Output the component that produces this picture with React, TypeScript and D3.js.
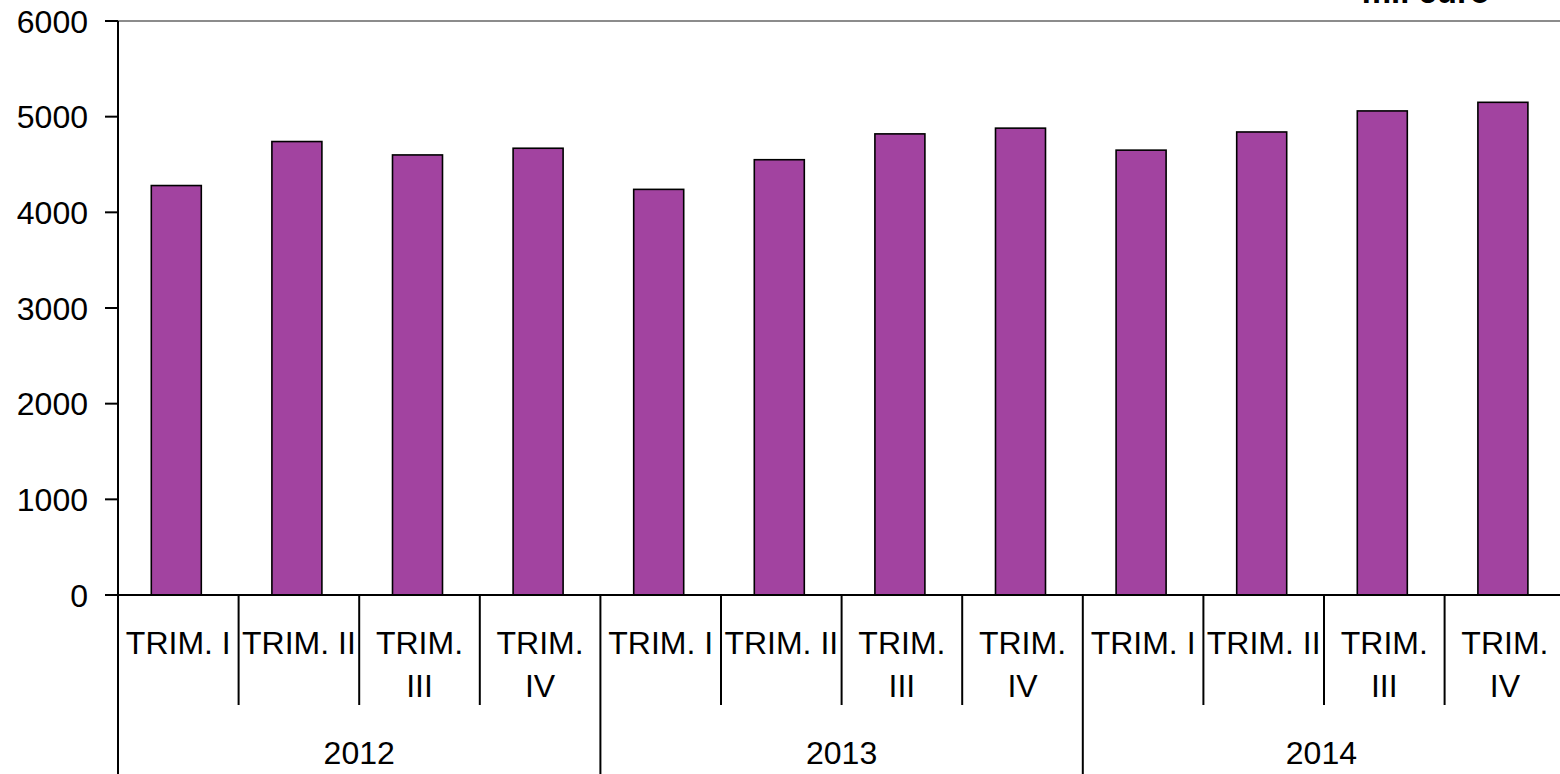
import React, { useEffect, useRef } from "react";
import * as d3 from "d3";

const years = ["2012", "2013", "2014"];
const quarters = ["TRIM. I", "TRIM. II", "TRIM. III", "TRIM. IV"];
const values2012 = [4280, 4740, 4600, 4670];
const values2013 = [4240, 4550, 4820, 4880];
const values2014 = [4650, 4840, 5060, 5150];
const yTicks = [0, 1000, 2000, 3000, 4000, 5000, 6000];
const unitLabel = "mil euro";

const W = 1560;
const H = 774;
const FONT = "'Liberation Sans', Arial, sans-serif";

export default function App() {
  const ref = useRef<SVGSVGElement | null>(null);

  useEffect(() => {
    const svg = d3.select(ref.current);
    svg.selectAll("*").remove();

    const data = [values2012, values2013, values2014].flatMap((vals, yi) =>
      vals.map((v, qi) => ({ key: `${years[yi]}-${qi}`, year: years[yi], q: quarters[qi], v, yi, qi }))
    );

    const x0 = 118;
    const band = 120.6;
    const x = d3
      .scaleBand<string>()
      .domain(data.map((d) => d.key))
      .range([x0, x0 + band * data.length])
      .paddingInner(0)
      .paddingOuter(0);
    const y = d3.scaleLinear().domain([0, 6000]).range([595, 21]);

    const barW = 50;

    // top border line (gray)
    svg
      .append("line")
      .attr("x1", x0)
      .attr("x2", W)
      .attr("y1", y(6000))
      .attr("y2", y(6000))
      .attr("stroke", "#8c8c8c")
      .attr("stroke-width", 2);

    // bars
    svg
      .append("g")
      .selectAll("rect")
      .data(data)
      .join("rect")
      .attr("x", (d) => (x(d.key) as number) + x.bandwidth() / 2 - barW / 2 - 2)
      .attr("y", (d) => y(d.v))
      .attr("width", barW)
      .attr("height", (d) => y(0) - y(d.v))
      .attr("fill", "#a243a0")
      .attr("stroke", "#000")
      .attr("stroke-width", 1.6);

    // y axis line
    svg
      .append("line")
      .attr("x1", x0)
      .attr("x2", x0)
      .attr("y1", y(6000))
      .attr("y2", H)
      .attr("stroke", "#000")
      .attr("stroke-width", 2);

    // baseline
    svg
      .append("line")
      .attr("x1", x0 - 13)
      .attr("x2", W)
      .attr("y1", y(0))
      .attr("y2", y(0))
      .attr("stroke", "#000")
      .attr("stroke-width", 2);

    // y ticks & labels
    const yg = svg.append("g");
    yg.selectAll("line")
      .data(yTicks)
      .join("line")
      .attr("x1", x0 - 13)
      .attr("x2", x0)
      .attr("y1", (d) => y(d))
      .attr("y2", (d) => y(d))
      .attr("stroke", "#000")
      .attr("stroke-width", 2);
    yg.selectAll("text")
      .data(yTicks)
      .join("text")
      .attr("x", 88)
      .attr("y", (d) => y(d) + 11.5)
      .attr("text-anchor", "end")
      .attr("font-family", FONT)
      .attr("font-size", 32)
      .attr("fill", "#000")
      .text((d) => String(d));

    // category separators
    const sep = svg.append("g");
    data.forEach((d, i) => {
      if (i === 0) return;
      const bx = x(d.key) as number;
      const isYear = d.qi === 0;
      sep
        .append("line")
        .attr("x1", bx)
        .attr("x2", bx)
        .attr("y1", y(0))
        .attr("y2", isYear ? H : 705)
        .attr("stroke", "#000")
        .attr("stroke-width", 2);
    });

    // quarter labels
    const lg = svg.append("g").attr("font-family", FONT).attr("font-size", 32).attr("fill", "#000");
    data.forEach((d) => {
      const cx = (x(d.key) as number) + x.bandwidth() / 2;
      const t = lg.append("text").attr("x", cx).attr("y", 654).attr("text-anchor", "middle").text(d.q);
      const len = (t.node() as SVGTextElement).getComputedTextLength();
      if (len > x.bandwidth() - 4) {
        const parts = d.q.split(" ");
        t.text(null);
        t.append("tspan").attr("x", cx).attr("y", 654).text(parts[0]);
        t.append("tspan").attr("x", cx).attr("y", 697).text(parts.slice(1).join(" "));
      }
    });

    // year labels
    years.forEach((yr) => {
      const keys = data.filter((d) => d.year === yr).map((d) => d.key);
      const start = x(keys[0]) as number;
      const end = Math.min((x(keys[keys.length - 1]) as number) + x.bandwidth(), W);
      lg.append("text")
        .attr("x", (start + end) / 2)
        .attr("y", 764)
        .attr("text-anchor", "middle")
        .text(yr);
    });

    // unit label (cut at top)
    svg
      .append("text")
      .attr("x", 1490)
      .attr("y", 3)
      .attr("text-anchor", "end")
      .attr("font-family", FONT)
      .attr("font-size", 33)
      .attr("font-weight", "bold")
      .attr("fill", "#000")
      .text(unitLabel);
  }, []);

  return (
    <svg
      ref={ref}
      width={W}
      height={H}
      style={{ position: "absolute", left: 0, top: 0, background: "#fff" }}
    />
  );
}
